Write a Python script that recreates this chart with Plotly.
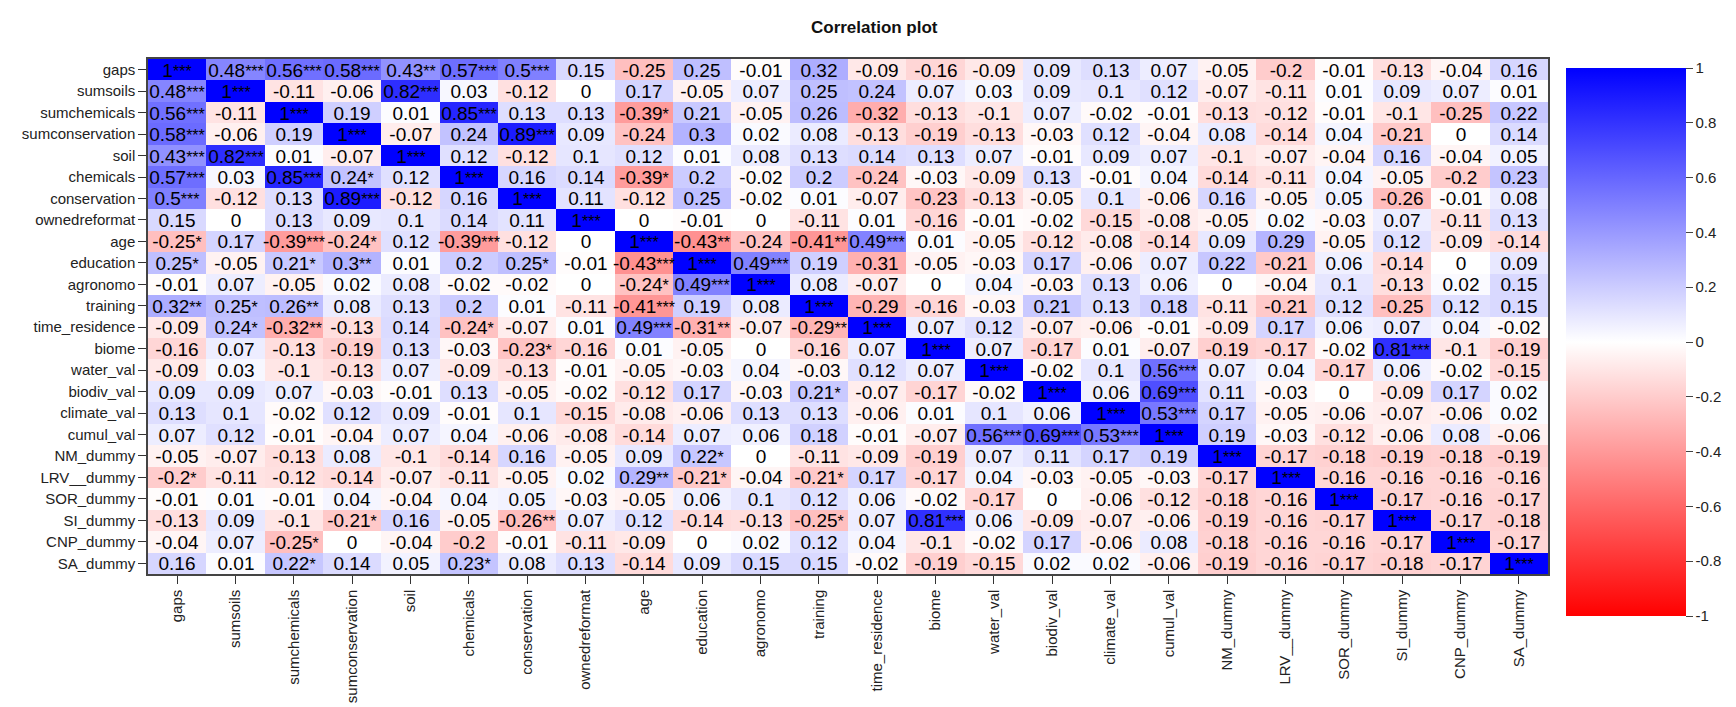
import plotly.graph_objects as go

variables = [
    "gaps", "sumsoils", "sumchemicals", "sumconservation", "soil", "chemicals",
    "conservation", "ownedreformat", "age", "education", "agronomo", "training",
    "time_residence", "biome", "water_val", "biodiv_val", "climate_val", "cumul_val",
    "NM_dummy", "LRV__dummy", "SOR_dummy", "SI_dummy", "CNP_dummy", "SA_dummy",
]

# cell labels as printed (correlation + significance stars), one row per variable
cell_text = [
    "1*** 0.48*** 0.56*** 0.58*** 0.43** 0.57*** 0.5*** 0.15 -0.25 0.25 -0.01 0.32 -0.09 -0.16 -0.09 0.09 0.13 0.07 -0.05 -0.2 -0.01 -0.13 -0.04 0.16",
    "0.48*** 1*** -0.11 -0.06 0.82*** 0.03 -0.12 0 0.17 -0.05 0.07 0.25 0.24 0.07 0.03 0.09 0.1 0.12 -0.07 -0.11 0.01 0.09 0.07 0.01",
    "0.56*** -0.11 1*** 0.19 0.01 0.85*** 0.13 0.13 -0.39* 0.21 -0.05 0.26 -0.32 -0.13 -0.1 0.07 -0.02 -0.01 -0.13 -0.12 -0.01 -0.1 -0.25 0.22",
    "0.58*** -0.06 0.19 1*** -0.07 0.24 0.89*** 0.09 -0.24 0.3 0.02 0.08 -0.13 -0.19 -0.13 -0.03 0.12 -0.04 0.08 -0.14 0.04 -0.21 0 0.14",
    "0.43*** 0.82*** 0.01 -0.07 1*** 0.12 -0.12 0.1 0.12 0.01 0.08 0.13 0.14 0.13 0.07 -0.01 0.09 0.07 -0.1 -0.07 -0.04 0.16 -0.04 0.05",
    "0.57*** 0.03 0.85*** 0.24* 0.12 1*** 0.16 0.14 -0.39* 0.2 -0.02 0.2 -0.24 -0.03 -0.09 0.13 -0.01 0.04 -0.14 -0.11 0.04 -0.05 -0.2 0.23",
    "0.5*** -0.12 0.13 0.89*** -0.12 0.16 1*** 0.11 -0.12 0.25 -0.02 0.01 -0.07 -0.23 -0.13 -0.05 0.1 -0.06 0.16 -0.05 0.05 -0.26 -0.01 0.08",
    "0.15 0 0.13 0.09 0.1 0.14 0.11 1*** 0 -0.01 0 -0.11 0.01 -0.16 -0.01 -0.02 -0.15 -0.08 -0.05 0.02 -0.03 0.07 -0.11 0.13",
    "-0.25* 0.17 -0.39*** -0.24* 0.12 -0.39*** -0.12 0 1*** -0.43** -0.24 -0.41** 0.49*** 0.01 -0.05 -0.12 -0.08 -0.14 0.09 0.29 -0.05 0.12 -0.09 -0.14",
    "0.25* -0.05 0.21* 0.3** 0.01 0.2 0.25* -0.01 -0.43*** 1*** 0.49*** 0.19 -0.31 -0.05 -0.03 0.17 -0.06 0.07 0.22 -0.21 0.06 -0.14 0 0.09",
    "-0.01 0.07 -0.05 0.02 0.08 -0.02 -0.02 0 -0.24* 0.49*** 1*** 0.08 -0.07 0 0.04 -0.03 0.13 0.06 0 -0.04 0.1 -0.13 0.02 0.15",
    "0.32** 0.25* 0.26** 0.08 0.13 0.2 0.01 -0.11 -0.41*** 0.19 0.08 1*** -0.29 -0.16 -0.03 0.21 0.13 0.18 -0.11 -0.21 0.12 -0.25 0.12 0.15",
    "-0.09 0.24* -0.32** -0.13 0.14 -0.24* -0.07 0.01 0.49*** -0.31** -0.07 -0.29** 1*** 0.07 0.12 -0.07 -0.06 -0.01 -0.09 0.17 0.06 0.07 0.04 -0.02",
    "-0.16 0.07 -0.13 -0.19 0.13 -0.03 -0.23* -0.16 0.01 -0.05 0 -0.16 0.07 1*** 0.07 -0.17 0.01 -0.07 -0.19 -0.17 -0.02 0.81*** -0.1 -0.19",
    "-0.09 0.03 -0.1 -0.13 0.07 -0.09 -0.13 -0.01 -0.05 -0.03 0.04 -0.03 0.12 0.07 1*** -0.02 0.1 0.56*** 0.07 0.04 -0.17 0.06 -0.02 -0.15",
    "0.09 0.09 0.07 -0.03 -0.01 0.13 -0.05 -0.02 -0.12 0.17 -0.03 0.21* -0.07 -0.17 -0.02 1*** 0.06 0.69*** 0.11 -0.03 0 -0.09 0.17 0.02",
    "0.13 0.1 -0.02 0.12 0.09 -0.01 0.1 -0.15 -0.08 -0.06 0.13 0.13 -0.06 0.01 0.1 0.06 1*** 0.53*** 0.17 -0.05 -0.06 -0.07 -0.06 0.02",
    "0.07 0.12 -0.01 -0.04 0.07 0.04 -0.06 -0.08 -0.14 0.07 0.06 0.18 -0.01 -0.07 0.56*** 0.69*** 0.53*** 1*** 0.19 -0.03 -0.12 -0.06 0.08 -0.06",
    "-0.05 -0.07 -0.13 0.08 -0.1 -0.14 0.16 -0.05 0.09 0.22* 0 -0.11 -0.09 -0.19 0.07 0.11 0.17 0.19 1*** -0.17 -0.18 -0.19 -0.18 -0.19",
    "-0.2* -0.11 -0.12 -0.14 -0.07 -0.11 -0.05 0.02 0.29** -0.21* -0.04 -0.21* 0.17 -0.17 0.04 -0.03 -0.05 -0.03 -0.17 1*** -0.16 -0.16 -0.16 -0.16",
    "-0.01 0.01 -0.01 0.04 -0.04 0.04 0.05 -0.03 -0.05 0.06 0.1 0.12 0.06 -0.02 -0.17 0 -0.06 -0.12 -0.18 -0.16 1*** -0.17 -0.16 -0.17",
    "-0.13 0.09 -0.1 -0.21* 0.16 -0.05 -0.26** 0.07 0.12 -0.14 -0.13 -0.25* 0.07 0.81*** 0.06 -0.09 -0.07 -0.06 -0.19 -0.16 -0.17 1*** -0.17 -0.18",
    "-0.04 0.07 -0.25* 0 -0.04 -0.2 -0.01 -0.11 -0.09 0 0.02 0.12 0.04 -0.1 -0.02 0.17 -0.06 0.08 -0.18 -0.16 -0.16 -0.17 1*** -0.17",
    "0.16 0.01 0.22* 0.14 0.05 0.23* 0.08 0.13 -0.14 0.09 0.15 0.15 -0.02 -0.19 -0.15 0.02 0.02 -0.06 -0.19 -0.16 -0.17 -0.18 -0.17 1***",
]

colorbar_ticks = [1, 0.8, 0.6, 0.4, 0.2, 0, -0.2, -0.4, -0.6, -0.8, -1]

text = [row.split() for row in cell_text]
z = [[float(s.rstrip("*")) for s in row] for row in text]


def fmt(s):
    # stars a bit smaller than the digits so the longest labels fit the cell
    num = s.rstrip("*")
    stars = s[len(num):]
    if not stars:
        return num
    return f"{num}<span style='font-size:16px'>{stars}</span>"


labels = [[fmt(s) for s in row] for row in text]

W, H = 1736, 707
left, right, top, bottom = 139.5, 1555.5, 51, 583

fig = go.Figure(
    go.Heatmap(
        z=z,
        x=variables,
        y=variables,
        text=labels,
        texttemplate="%{text}",
        textfont=dict(size=19, color="black", family="Liberation Sans, Arial"),
        zmin=-1,
        zmax=1,
        colorscale=[[0, "#ff0000"], [0.5, "#ffffff"], [1, "#0000ff"]],
        colorbar=dict(
            x=(1564 - left) / (right - left),
            xanchor="left",
            y=(bottom - 50) / (bottom - top),
            yanchor="top",
            lenmode="pixels",
            len=568,
            thickness=120,
            outlinewidth=0,
            tickvals=colorbar_ticks,
            ticktext=[str(v) for v in colorbar_ticks],
            ticks="outside",
            ticklen=7,
            tickcolor="#444",
            tickfont=dict(size=15, color="#222", family="Liberation Sans, Arial"),
        ),
    )
)

fig.update_layout(
    width=W,
    height=H,
    margin=dict(l=left, r=W - right, t=top, b=H - bottom, pad=0),
    paper_bgcolor="white",
    plot_bgcolor="white",
    font=dict(family="Liberation Sans, Arial", color="#222"),
    title=dict(
        text="<b>Correlation plot</b>",
        x=0.499,
        xanchor="center",
        y=1 - 19 / H,
        yanchor="middle",
        yref="container",
        font=dict(size=17, color="#111"),
    ),
)
fig.update_xaxes(
    tickangle=-90,
    ticks="outside",
    ticklen=8,
    tickcolor="#333",
    tickfont=dict(size=15),
    showline=True,
    linecolor="#444",
    linewidth=1.5,
    mirror=True,
    showgrid=False,
    zeroline=False,
)
fig.update_yaxes(
    autorange="reversed",
    ticks="outside",
    ticklen=8,
    tickcolor="#333",
    tickfont=dict(size=15),
    showline=True,
    linecolor="#444",
    linewidth=1.5,
    mirror=True,
    showgrid=False,
    zeroline=False,
)

fig.write_html("out.html")
